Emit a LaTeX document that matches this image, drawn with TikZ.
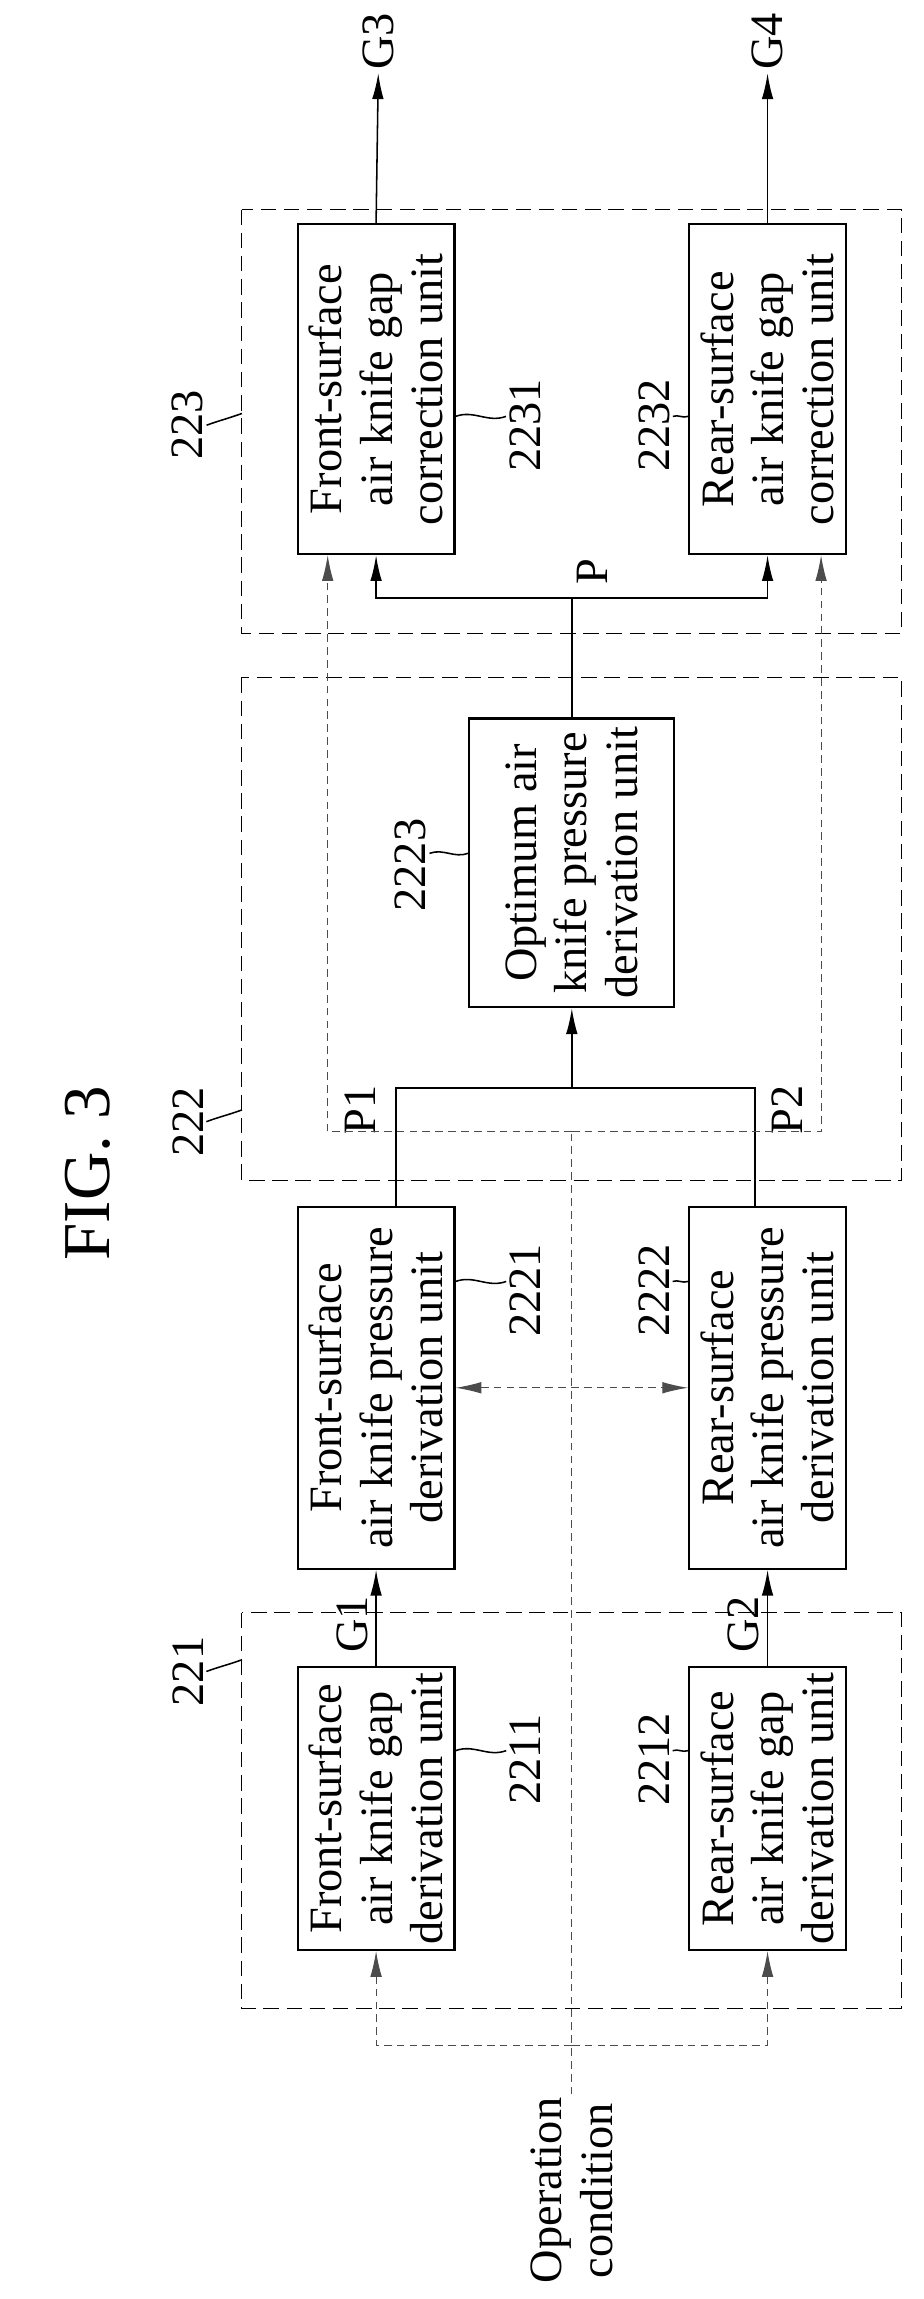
\documentclass[tikz,border=0pt]{standalone}
\usepackage{fontspec}
\setmainfont{Liberation Serif}
\usetikzlibrary{arrows.meta,positioning,calc}

\begin{document}
\begin{tikzpicture}[x=0.02cm, y=-0.02cm, font=\fontsize{18}{19.5}\selectfont, semithick]

    % --- styles ---
    \tikzset{
        unit/.style={draw, thick, rotate=90, align=center, inner sep=0pt, minimum height=2.14cm},
        group/.style={draw, thin, dash pattern=on 6pt off 3pt},
        thind/.style={draw=black!70, thin, dash pattern=on 3pt off 2pt},
        arr/.style={-{Latex[length=10pt,width=4.5pt]}},
        lbl/.style={rotate=90, inner sep=1pt},
        lead/.style={thin, out=20, in=200}
    }
    \useasboundingbox (0,0) rectangle (630,1568);

    \node[rotate=90, font=\fontsize{26}{26}\selectfont] (fig) at (60,800) {FIG. 3};

    % --- groups ---
    \draw[group] (165,143) rectangle (615,432);
    \draw[group] (165,462) rectangle (615,805);
    \draw[group] (165,1100) rectangle (615,1370);
    \node[lbl] (l223) at (128,290) {223};
    \node[lbl] (l222) at (128,765) {222};
    \node[lbl] (l221) at (128,1140) {221};
    \draw (l223.south) to[lead] (165,282);
    \draw (l222.south) to[lead] (165,757);
    \draw (l221.south) to[lead] (165,1132);

    % --- units ---
    \node[unit, minimum width=4.5cm] (c1) at (256.5,265.5) {Front-surface\\air knife gap\\correction unit};
    \node[unit, minimum width=4.5cm] (c2) at (523.5,265.5) {Rear-surface\\air knife gap\\correction unit};
    \node[unit, minimum width=3.94cm, minimum height=2.8cm] (opt) at (390,588.5) {Optimum air\\knife pressure\\derivation unit};
    \node[unit, minimum width=4.94cm] (d1) at (256.5,946.5) {Front-surface\\air knife pressure\\derivation unit};
    \node[unit, minimum width=4.94cm] (d2) at (523.5,946.5) {Rear-surface\\air knife pressure\\derivation unit};
    \node[unit, minimum width=3.86cm] (g1) at (256.5,1233.5) {Front-surface\\air knife gap\\derivation unit};
    \node[unit, minimum width=3.86cm] (g2) at (523.5,1233.5) {Rear-surface\\air knife gap\\derivation unit};

    % --- reference numerals ---
    \node[lbl] (l2231) at (358,290) {2231};
    \node[lbl] (l2232) at (446,290) {2232};
    \node[lbl] (l2223) at (280,590) {2223};
    \node[lbl] (l2221) at (358,880) {2221};
    \node[lbl] (l2222) at (446,880) {2222};
    \node[lbl] (l2211) at (358,1200) {2211};
    \node[lbl] (l2212) at (446,1200) {2212};
    \draw (c1.south |- l2231.north) ++(0,-6) to[lead] ($(l2231.north)+(0,-6)$);
    \draw (l2232.south) ++(0,-6) to[lead] ($(c2.north |- l2232.south)+(0,-6)$);
    \draw (l2223.south) ++(0,-8) to[lead] ($(opt.north |- l2223.south)+(0,-8)$);
    \draw (d1.south |- l2221.north) ++(0,-6) to[lead] ($(l2221.north)+(0,-6)$);
    \draw (l2222.south) ++(0,-6) to[lead] ($(d2.north |- l2222.south)+(0,-6)$);
    \draw (g1.south |- l2211.north) ++(0,-6) to[lead] ($(l2211.north)+(0,-6)$);
    \draw (l2212.south) ++(0,-6) to[lead] ($(g2.north |- l2212.south)+(0,-6)$);

    % --- outputs ---
    \node[lbl, anchor=west] (G3) at (258,50) {G3};
    \node[lbl, anchor=west] (G4) at (523.5,50) {G4};
    \draw[arr] (c1.east) -- (G3.west);
    \draw[arr] (c2.east) -- (G4.west);

    % --- P ---
    \coordinate (jP) at (390,408);
    \node[lbl] (P) at (404,390) {P};
    \draw (opt.east) -- (jP);
    \draw[arr] (jP) -| (c1.west);
    \draw[arr] (jP) -| (c2.west);

    % --- P1 / P2 ---
    \coordinate (jQ) at (390,742);
    \node[lbl] (P1) at (246,757) {P1};
    \node[lbl] (P2) at (537,757) {P2};
    \draw ($(d1.east)+(13.5,0)$) |- (jQ) -| ($(d2.east)+(-8.5,0)$);
    \draw[arr] (jQ) -- (opt.west);
    \draw[thind, {Latex[length=10pt,width=4.5pt]}-{Latex[length=10pt,width=4.5pt]}] (d1.south) -- (d2.north);

    % --- G1 / G2 ---
    \node[lbl] (G1) at (240,1108) {G1};
    \node[lbl] (G2) at (507,1108) {G2};
    \draw[arr] (g1.east) -- (d1.west);
    \draw[arr] (g2.east) -- (d2.west);

    % --- operation condition ---
    \node[lbl, align=center] (oc) at (390,1494) {Operation\\condition};
    \coordinate (jC) at (390,772);
    \coordinate (jB) at (390,1395);
    \draw[thind] (oc.east) -- (jC);
    \draw[thind, arr] (jC) -| ($(c1.west)+(-33,0)$);
    \draw[thind, arr] (jC) -| ($(c2.west)+(36.5,0)$);
    \draw[thind, arr] (jB) -| (g1.west);
    \draw[thind, arr] (jB) -| (g2.west);

\end{tikzpicture}
\end{document}
